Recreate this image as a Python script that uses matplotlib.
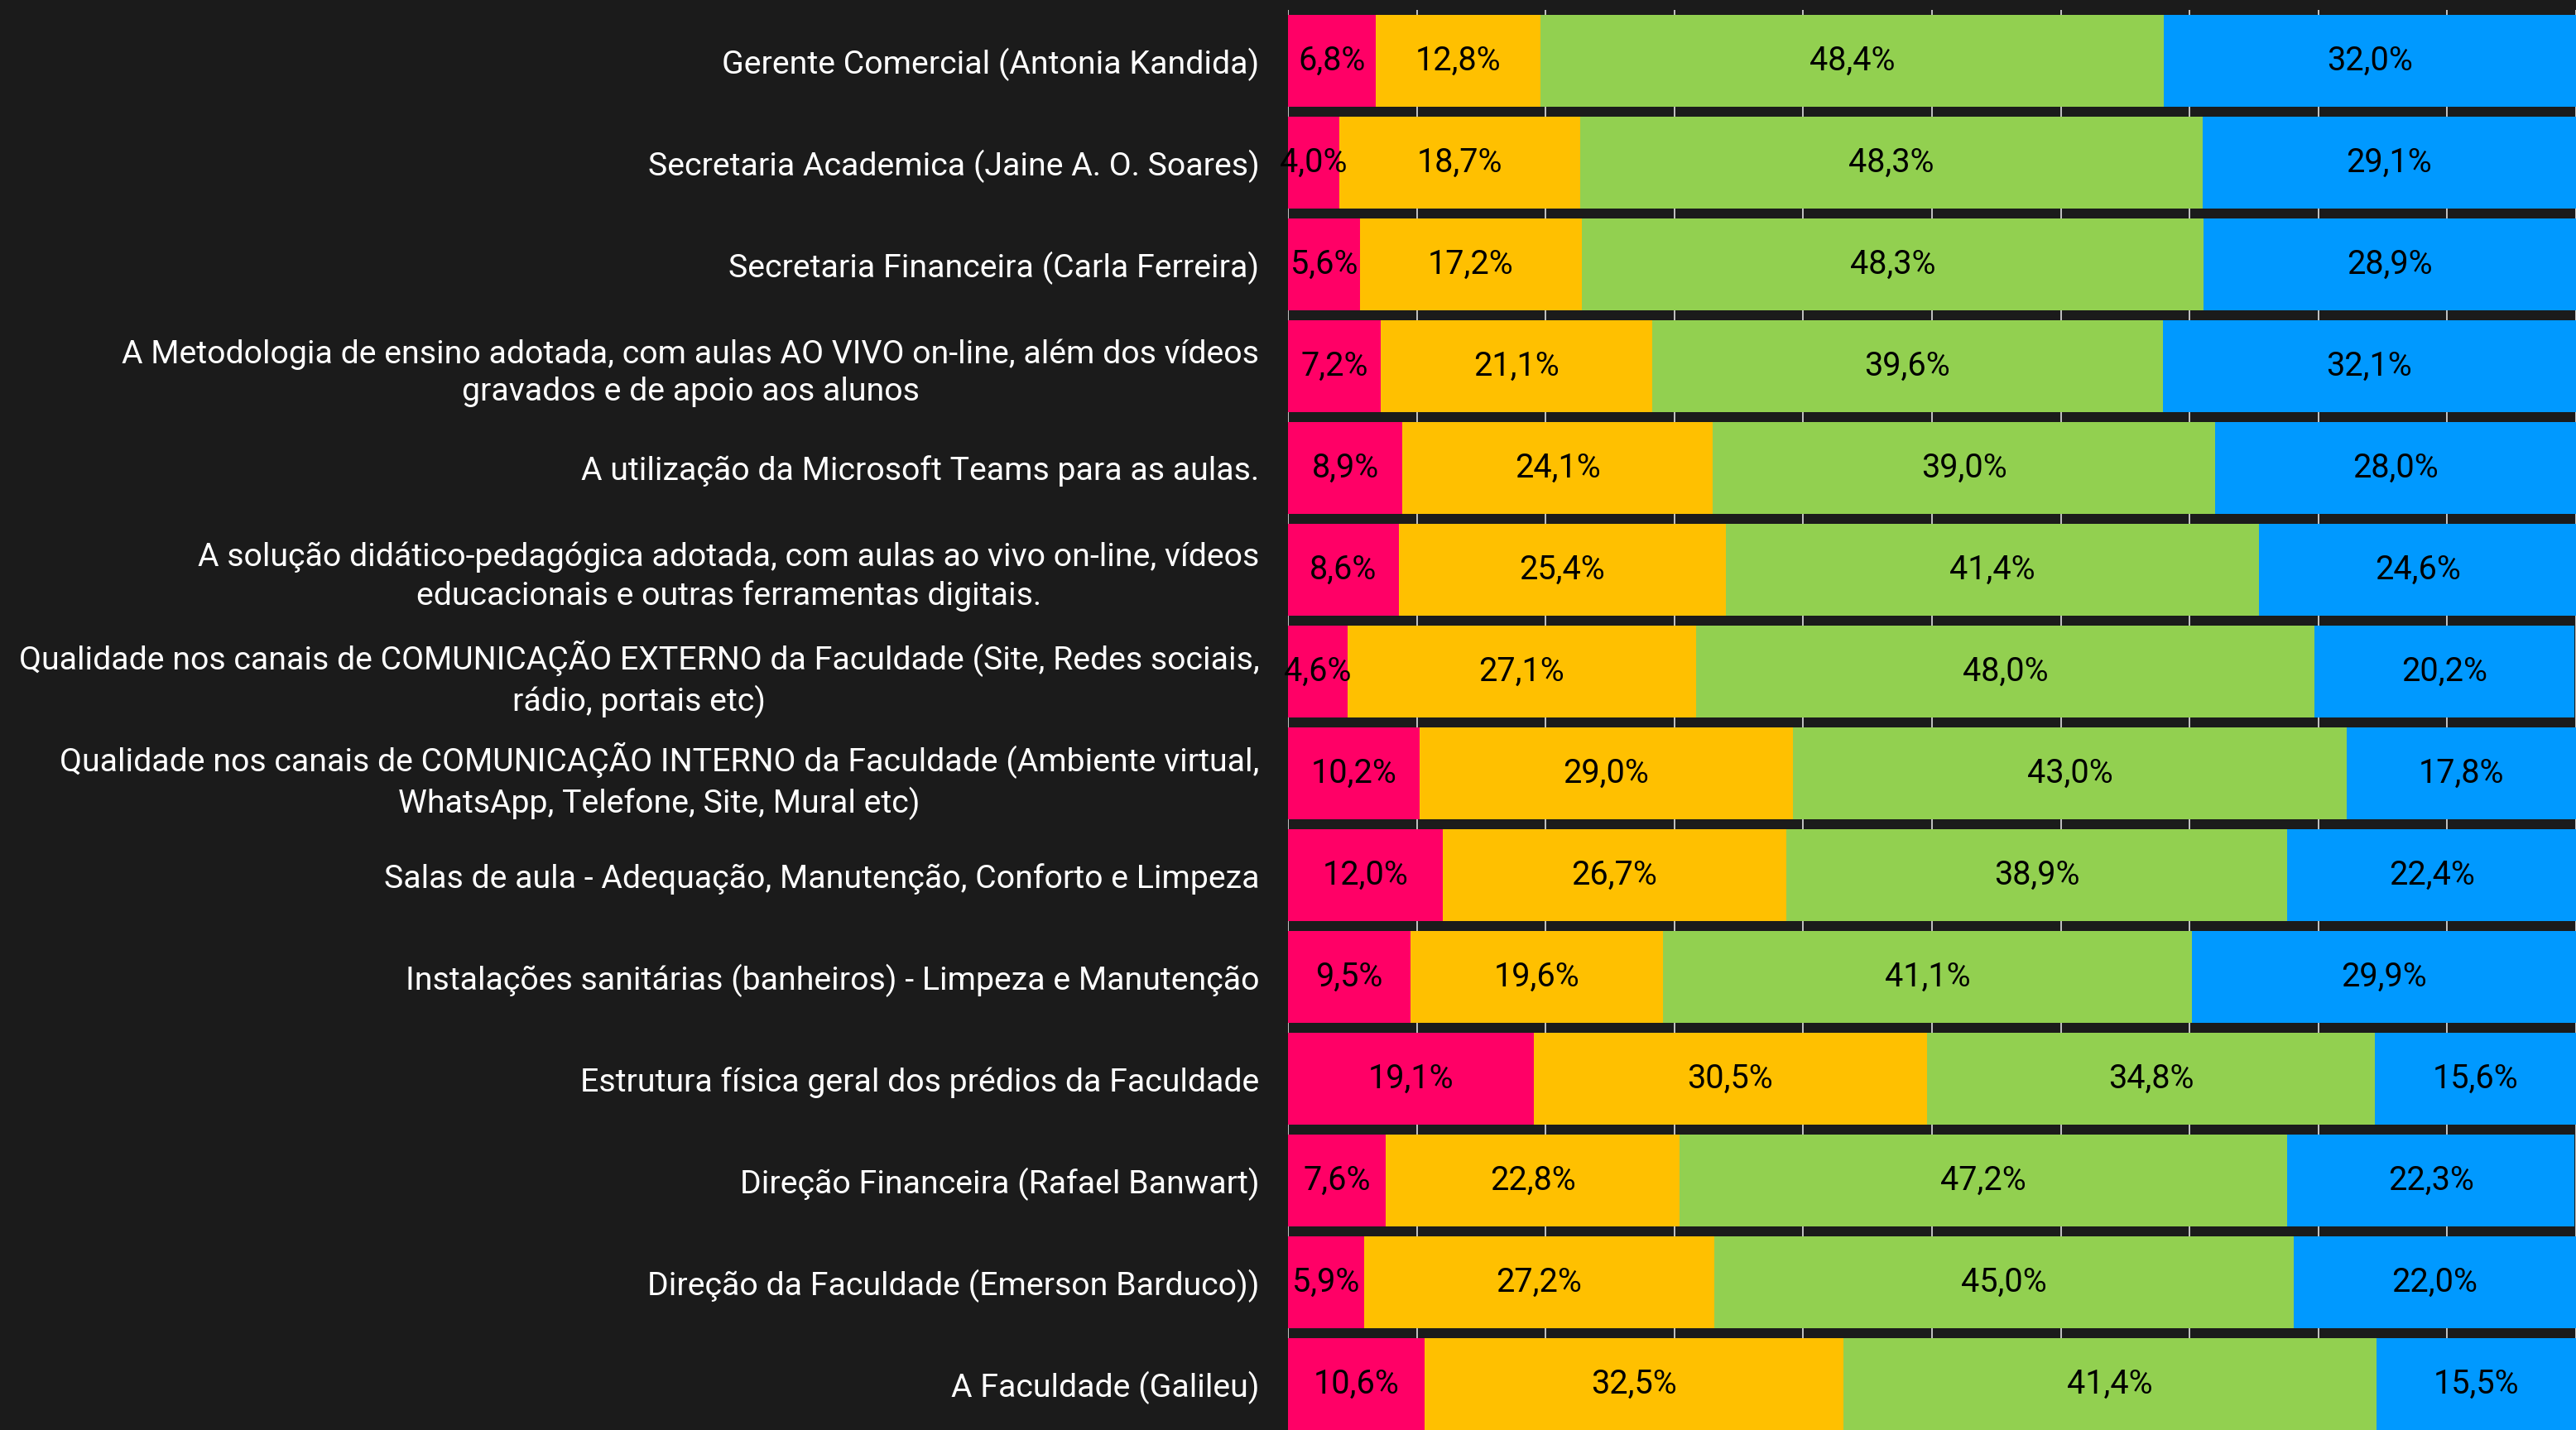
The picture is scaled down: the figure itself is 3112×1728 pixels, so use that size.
import matplotlib.pyplot as plt
import numpy as np

# categories, top to bottom
categorias = [
    "Gerente Comercial (Antonia Kandida)",
    "Secretaria Academica (Jaine A. O. Soares)",
    "Secretaria Financeira (Carla Ferreira)",
    "A Metodologia de ensino adotada, com aulas AO VIVO on-line, além dos vídeos\ngravados e de apoio aos alunos",
    "A utilização da Microsoft Teams para as aulas.",
    "A solução didático-pedagógica adotada, com aulas ao vivo on-line, vídeos\neducacionais e outras ferramentas digitais.",
    "Qualidade nos canais de COMUNICAÇÃO EXTERNO da Faculdade (Site, Redes sociais,\nrádio, portais etc)",
    "Qualidade nos canais de COMUNICAÇÃO INTERNO da Faculdade (Ambiente virtual,\nWhatsApp, Telefone, Site, Mural etc)",
    "Salas de aula - Adequação, Manutenção, Conforto e Limpeza",
    "Instalações sanitárias (banheiros) - Limpeza e Manutenção",
    "Estrutura física geral dos prédios da Faculdade",
    "Direção Financeira (Rafael Banwart)",
    "Direção da Faculdade (Emerson Barduco))",
    "A Faculdade (Galileu)",
]

serie_vermelha = [6.8, 4.0, 5.6, 7.2, 8.9, 8.6, 4.6, 10.2, 12.0, 9.5, 19.1, 7.6, 5.9, 10.6]
serie_amarela = [12.8, 18.7, 17.2, 21.1, 24.1, 25.4, 27.1, 29.0, 26.7, 19.6, 30.5, 22.8, 27.2, 32.5]
serie_verde = [48.4, 48.3, 48.3, 39.6, 39.0, 41.4, 48.0, 43.0, 38.9, 41.1, 34.8, 47.2, 45.0, 41.4]
serie_azul = [32.0, 29.1, 28.9, 32.1, 28.0, 24.6, 20.2, 17.8, 22.4, 29.9, 15.6, 22.3, 22.0, 15.5]

series = [serie_vermelha, serie_amarela, serie_verde, serie_azul]
cores = ["#FF0066", "#FFC000", "#92D050", "#0099FF"]
fundo = "#1b1b1b"

plt.rcParams['font.family'] = ['Roboto', 'DejaVu Sans']

fig = plt.figure(figsize=(31.12, 17.28), dpi=100, facecolor=fundo)
ax = fig.add_axes([1556 / 3112, 0, 1556 / 3112, 1 - 12 / 1728])
ax.set_facecolor(fundo)

y = np.arange(len(categorias))
esquerda = np.zeros(len(categorias))
for valores, cor in zip(series, cores):
    barras = ax.barh(y, valores, left=esquerda, height=0.9, color=cor, zorder=2)
    rotulos = [f"{v:.1f}%".replace('.', ',') for v in valores]
    ax.bar_label(barras, labels=rotulos, label_type='center', color='black', fontsize=28.5)
    esquerda += np.array(valores)

ax.set_xlim(0, 100)
ax.set_ylim(len(categorias) - 0.55, -0.5)
ax.set_xticks(np.arange(0, 101, 10))
ax.set_xticklabels([])
ax.xaxis.grid(True, color='#d0d0d0', linewidth=1.3, zorder=0)
ax.set_axisbelow(True)

ax.set_yticks(y)
ax.set_yticklabels(categorias, color='white', fontsize=28.3)
for t in ax.get_yticklabels():
    t.set_multialignment('center')
    t.set_linespacing(1.3)
ax.tick_params(axis='both', length=0)
ax.tick_params(axis='y', pad=25)
for s in ax.spines.values():
    s.set_visible(False)

plt.savefig("out.png", dpi=100, facecolor=fundo)
plt.close()
